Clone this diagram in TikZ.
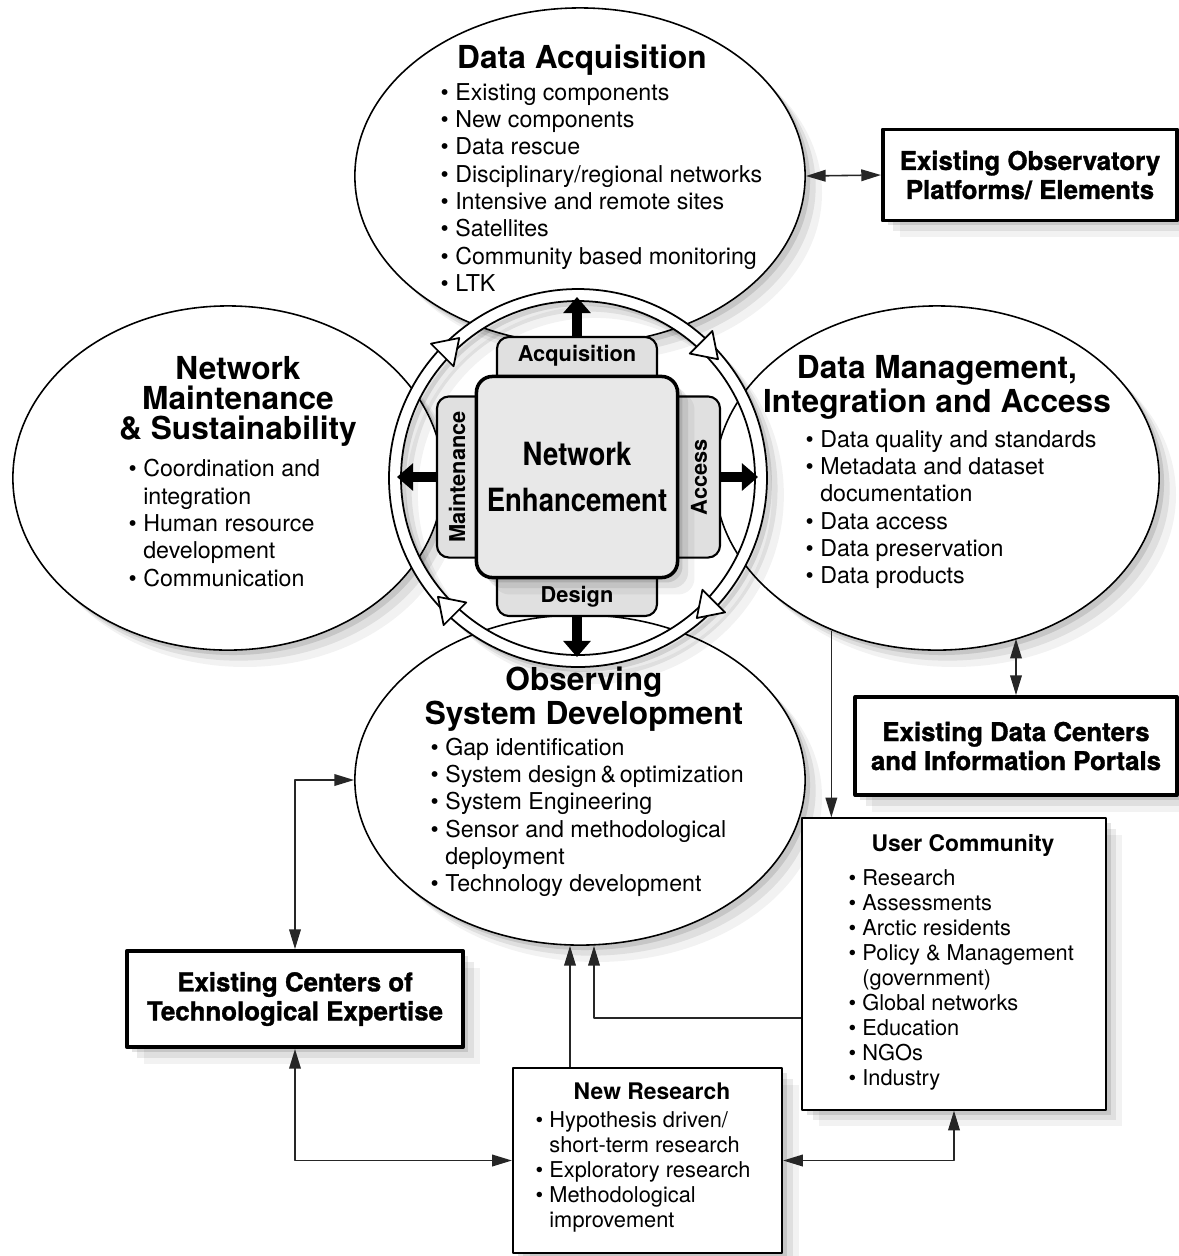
\documentclass[tikz,border=0pt]{standalone}
\usepackage{fontspec}
\setmainfont{TeX Gyre Heros}
\newfontfamily\condfont[FakeStretch=0.86]{TeX Gyre Heros}
\newfontfamily\heavyfont{TeX Gyre Heros}[BoldFeatures={FakeBold=1.3}]
\usetikzlibrary{arrows.meta,shapes.geometric,shadows,calc}

\newcommand{\bl}{\textbullet\ }
\newcommand{\ind}{\hphantom{\textbullet\ }}

\tikzset{
  softshadow/.style={
    drop shadow={shadow xshift=1.4pt,shadow yshift=-1.4pt,opacity=0.11,fill=black},
    drop shadow={shadow xshift=3pt,shadow yshift=-3pt,opacity=0.08,fill=black},
    drop shadow={shadow xshift=4.8pt,shadow yshift=-4.8pt,opacity=0.05,fill=black}},
  bubble/.style={ellipse, draw, fill=white, line width=0.45pt, inner sep=0pt, softshadow},
  heavybox/.style={rectangle, draw, fill=white, line width=1.1pt, inner sep=0pt, softshadow},
  thinbox/.style={rectangle, draw, fill=white, line width=0.6pt, inner sep=0pt, softshadow},
  tabbox/.style={rectangle, draw, rounded corners=0.12cm, fill=black!12, line width=0.6pt, inner sep=0pt},
  corebox/.style={rectangle, draw, rounded corners=0.16cm, fill=black!9, line width=1pt, inner sep=0pt, softshadow},
  bigtitle/.style={font=\fontsize{9}{8.5}\selectfont\bfseries, align=center, inner sep=0pt},
  itemlist/.style={font=\fontsize{6.6}{7.77}\selectfont, align=left, anchor=west, inner sep=0pt},
  boxtitle/.style={font=\heavyfont\fontsize{7.35}{8.25}\selectfont\bfseries, align=center},
  smalltitle/.style={font=\fontsize{6.5}{7.1}\selectfont\bfseries, inner sep=0pt},
  smalllist/.style={font=\fontsize{6.2}{7.11}\selectfont, align=left, anchor=west, inner sep=0pt},
  tablabel/.style={font=\fontsize{6.2}{7}\selectfont\bfseries, inner sep=0pt},
  link/.style={line width=0.45pt, draw=black!85},
  bigarrow/.style={line width=2.6pt, line cap=butt, -{Triangle[length=4.6pt,width=7.6pt]}},
}

\begin{document}
\begin{tikzpicture}[x=0.01cm,y=0.01cm,line join=round,>={Triangle[length=5.6pt,width=3.3pt]}]
\fill[white] (0,0) rectangle (1179,-1256);
\useasboundingbox (0,0) rectangle (1179,-1256);

% the four bubbles
\node[bubble, minimum width=4.3cm, minimum height=3.44cm] (nm) at (228,-478) {};
\node[bubble, minimum width=4.44cm, minimum height=3.44cm] (dm) at (937,-478) {};
\node[bubble, minimum width=4.5cm, minimum height=3.36cm] (da) at (580,-176) {};
\node[bubble, minimum width=4.5cm, minimum height=3.3cm] (osd) at (580,-780) {};

% ring with its arrows
\coordinate (ringc) at (578,-478);
\foreach \s/\o in {1.4pt/0.11,3pt/0.08,4.8pt/0.05}
  \fill[black, opacity=\o, even odd rule] ($(ringc)+(\s,-\s)$) circle[radius=189] ($(ringc)+(\s,-\s)$) circle[radius=177];
\path[fill=white, draw, line width=0.5pt, even odd rule] (ringc) circle[radius=189] (ringc) circle[radius=177];
\foreach \a in {135,45,-45,-135}
  \draw[fill=white, line width=0.5pt, shift={(ringc)}, rotate=\a] (183,-15) -- (167,9) -- (199,9) -- cycle;

% core and tabs
\node[tabbox, minimum width=1.6cm, minimum height=0.8cm] (acqtab) at (577,-377) {};
\node[tabbox, minimum width=1.6cm, minimum height=0.76cm] (destab) at (577,-578) {};
\node[tabbox, minimum width=0.8cm, minimum height=1.61cm] (maitab) at (477,-477) {};
\node[tabbox, minimum width=0.84cm, minimum height=1.61cm] (acctab) at (678,-477) {};
\node[corebox, minimum size=2.01cm] (core) at (577,-477) {};
\node[font=\condfont\fontsize{9.1}{13}\selectfont\bfseries, align=center, inner sep=0pt] (netenh) at (core) {Network\\Enhancement};
\node[tablabel] (acqlbl) at (577,-356) {Acquisition};
\node[tablabel] (deslbl) at (577,-597) {Design};
\node[tablabel, rotate=90] (mailbl) at (457,-477) {Maintenance};
\node[tablabel, rotate=90] (acclbl) at (699,-477) {Access};
\draw[bigarrow] (acqtab.north) -- ++(0,39);
\draw[bigarrow] (destab.south) -- ++(0,-40);
\draw[bigarrow] (maitab.west) -- ++(-39,0);
\draw[bigarrow] (acctab.east) -- ++(37,0);

% outside boxes
\node[heavybox, boxtitle, minimum width=2.94cm, minimum height=0.91cm] (obs) at (1030,-175) {Existing Observatory\\Platforms/ Elements};
\node[heavybox, boxtitle, minimum width=3.21cm, minimum height=0.98cm] (dcen) at (1016,-746) {Existing Data Centers\\and Information Portals};
\node[heavybox, boxtitle, minimum width=3.36cm, minimum height=0.96cm] (ctex) at (295,-999) {Existing Centers of\\Technological Expertise};
\node[thinbox, minimum width=3.03cm, minimum height=2.91cm] (ucom) at (954,-964) {};
\node[thinbox, minimum width=2.69cm, minimum height=1.85cm] (nres) at (647.5,-1160.5) {};

% links
\draw[link,<->] (da.east) -- (obs.west);
\draw[link,<->] (dcen.north |- dm.-63.7) -- (dcen.north);
\coordinate (ucomin) at ($(ucom.north west)+(30,0)$);
\draw[link,->] (ucomin |- dm.-124.4) -- (ucomin);
\draw[link,<->] (osd.west) -| (ctex.north);
\draw[link,<->] (ctex.south) |- (nres.west);
\draw[link,<->] (nres.east) -| (ucom.south);
\coordinate (nresout) at ($(nres.north)+(-77.5,0)$);
\draw[link,->] (nresout) -- (nresout |- osd.south);
\coordinate (ucomout) at ($(ucom.west)+(0,-54)$);
\draw[link,->] (ucomout) -| ($(osd.south)+(14,0)$);

% texts
\node[bigtitle] (datitle) at (582,-60) {Data Acquisition};
\node[itemlist] (dalist) at (440,-187.5) {\bl Existing components\\\bl New components\\\bl Data rescue\\\bl Disciplinary/regional networks\\\bl Intensive and remote sites\\\bl Satellites\\\bl Community based monitoring\\\bl LTK};
\node[bigtitle] (nmtitle) at (238,-401.5) {Network\\Maintenance\\\& Sustainability};
\node[itemlist] (nmlist) at (128,-523) {\bl Coordination and\\\ind integration\\\bl Human resource\\\ind development\\\bl Communication};
\node[bigtitle] (dmtitle) at (937,-387) {Data Management,\\Integration and Access};
\node[itemlist] (dmlist) at (805,-509.5) {\bl Data quality and standards\\\bl Metadata and dataset\\\ind documentation\\\bl Data access\\\bl Data preservation\\\bl Data products};
\node[bigtitle] (osdtitle) at (584,-699.5) {Observing\\System Development};
\node[itemlist] (osdlist) at (430,-817.5) {\bl Gap identification\\\bl System design\,\&\,optimization\\\bl System Engineering\\\bl Sensor and methodological\\\ind deployment\\\bl Technology development};
\node[smalltitle] (ucomtitle) at (963,-845) {User Community};
\node[smalllist] (ucomlist) at (848,-980) {\bl Research\\\bl Assessments\\\bl Arctic residents\\\bl Policy \& Management\\\ind (government)\\\bl Global networks\\\bl Education\\\bl NGOs\\\bl Industry};
\node[smalltitle] (nrestitle) at (652,-1091) {New Research};
\node[smalllist] (nreslist) at (535,-1172) {\bl Hypothesis driven/\\\ind short-term research\\\bl Exploratory research\\\bl Methodological\\\ind improvement};
\end{tikzpicture}
\end{document}
